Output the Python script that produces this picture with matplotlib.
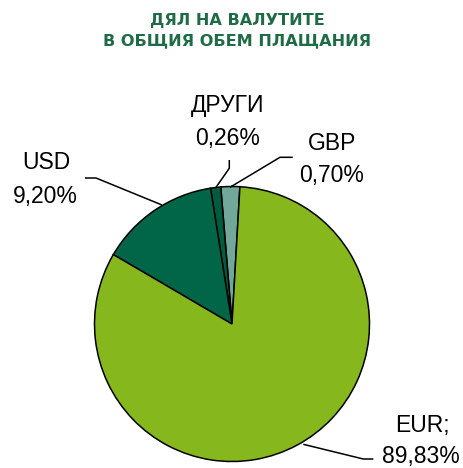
import matplotlib
matplotlib.use("Agg")
import matplotlib.pyplot as plt

# ---- data ----
categories = ["GBP", "ДРУГИ", "USD", "EUR"]
slice_shares = [2.22, 1.19, 14.08, 82.51]          # drawn slice sizes (%)
label_values = ["0,70%", "0,26%", "9,20%", "89,83%"]
label_names = ["GBP", "ДРУГИ", "USD", "EUR;"]
colors = ["#72A899", "#005C3E", "#006647", "#86B71C"]
title_lines = ["ДЯЛ НА ВАЛУТИТЕ", "В ОБЩИЯ ОБЕМ ПЛАЩАНИЯ"]

W, H = 464, 468
fig = plt.figure(figsize=(W / 100, H / 100), dpi=100)
ax = fig.add_axes([0, 0, 1, 1])


def Y(y):
    return H - y


ax.pie(slice_shares, colors=colors, startangle=86.7, counterclock=True,
       center=(232, Y(324)), radius=137.5,
       wedgeprops=dict(edgecolor="black", linewidth=1.1), frame=True)
ax.set_xlim(0, W)
ax.set_ylim(0, H)
ax.axis("off")

# title
tcol = "#1E6B45"
for txt, by in zip(title_lines, (25, 45.5)):
    ax.text(237.5, Y(by), txt, ha="center", va="baseline",
            fontsize=11.6, fontweight="bold", color=tcol, family="DejaVu Sans")

# labels: (name center x, name baseline, value center x, value baseline)
label_layout = {
    "GBP": (332, 150, 331.5, 182),
    "ДРУГИ": (228, 111.7, 228, 145.5),
    "USD": (46, 169.3, 45, 203.3),
    "EUR;": (422, 431.7, 421, 463.3),
}
leaders = {
    "GBP": [(292.7, 157.3), (280, 157.3), (230, 187.3)],
    "ДРУГИ": [(229.3, 160), (229.3, 168.3), (216, 187.3)],
    "USD": [(85, 178), (96, 178), (162, 205)],
    "EUR;": [(373.3, 459), (363.3, 459), (303.3, 444.3)],
}
for name, val in zip(label_names, label_values):
    nx, ny, vx, vy = label_layout[name]
    ax.text(nx, Y(ny), name, ha="center", va="baseline", fontsize=16.5,
            family="Liberation Sans", color="black")
    ax.text(vx, Y(vy), val, ha="center", va="baseline", fontsize=16.5,
            family="Liberation Sans", color="black")
    pts = leaders[name]
    ax.plot([p[0] for p in pts], [Y(p[1]) for p in pts], color="black",
            linewidth=1.1, solid_capstyle="butt")

fig.savefig("out.png", dpi=100)
